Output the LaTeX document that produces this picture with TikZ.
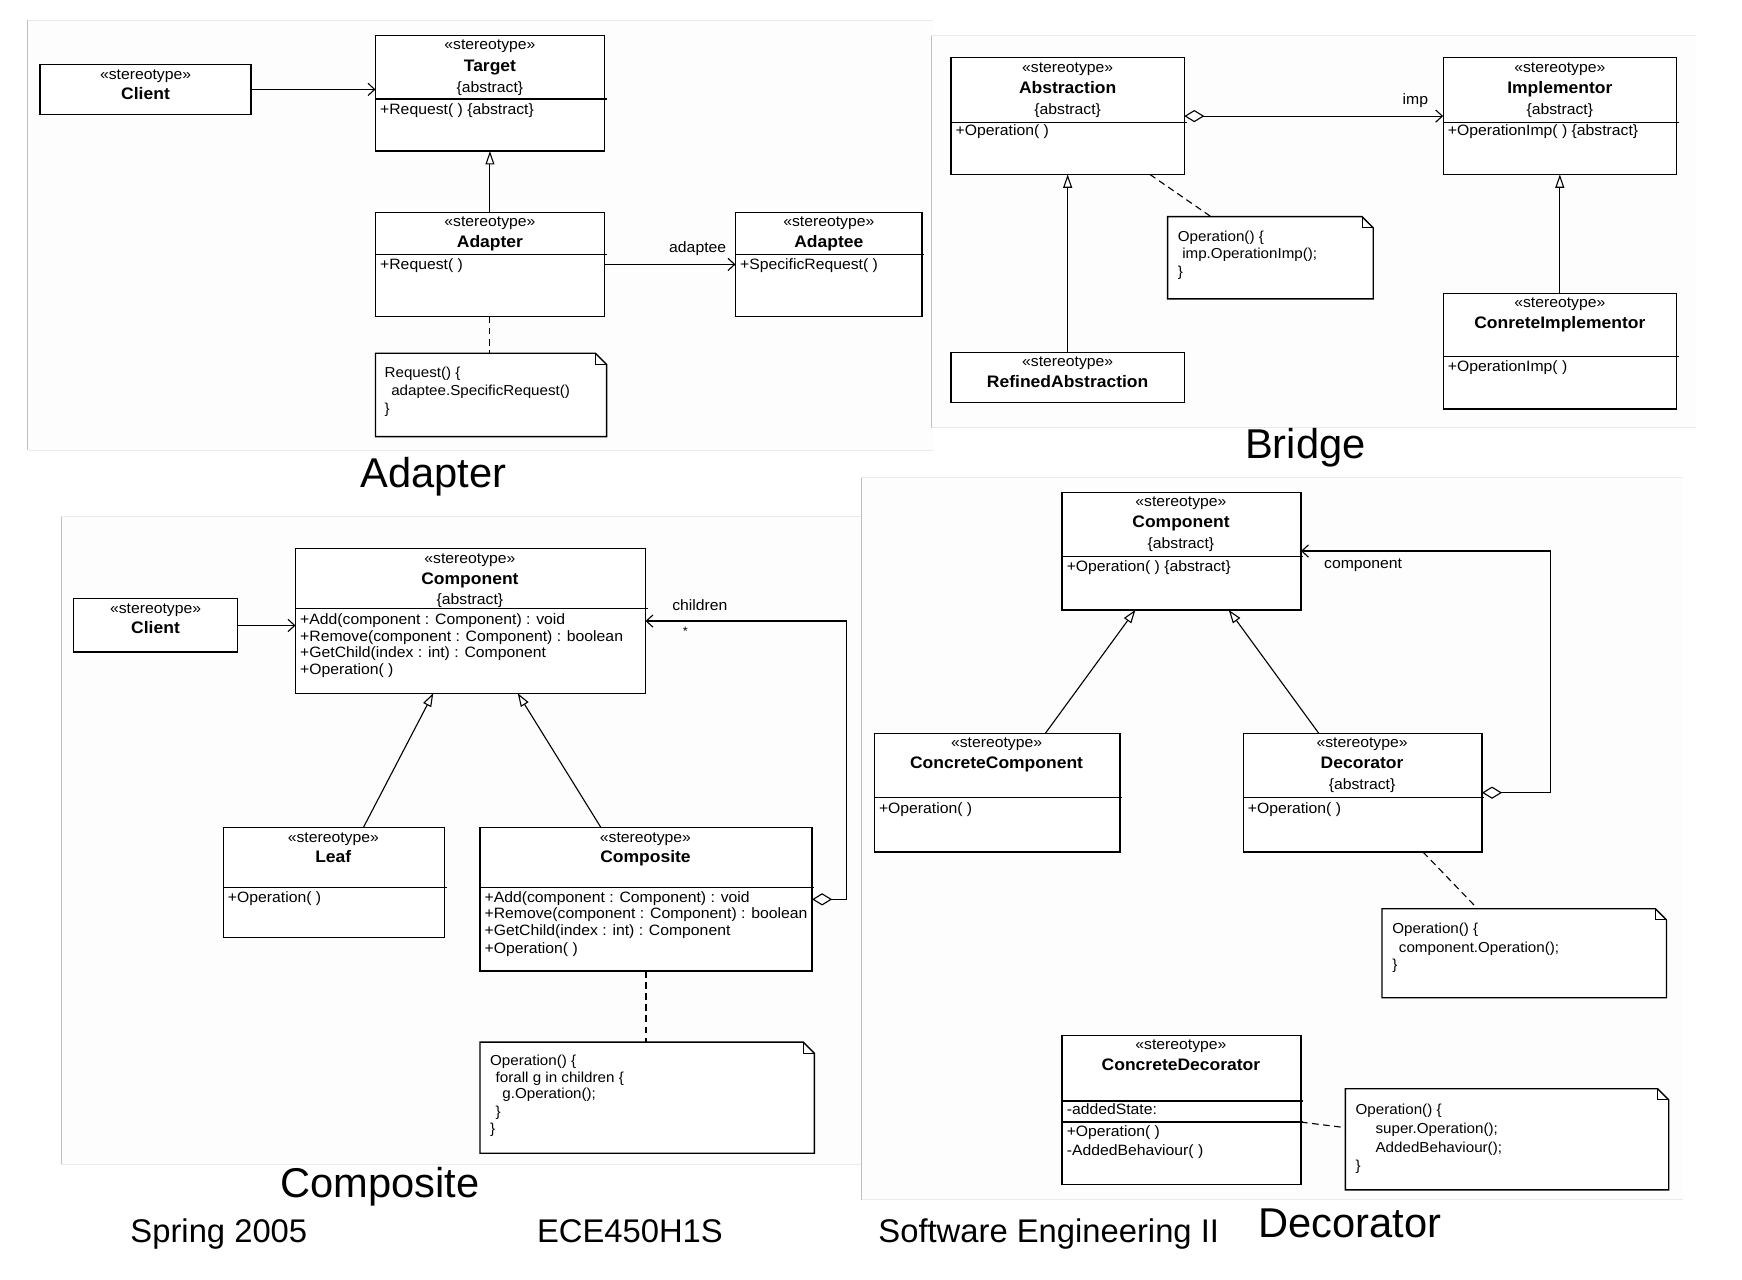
\documentclass[tikz,border=0pt]{standalone}
\usepackage{fontspec}
\setmainfont{Liberation Sans}
\newfontfamily\umlf[FakeStretch=1.05]{Liberation Sans}
\usetikzlibrary{arrows.meta,calc}

\tikzset{
 umlbox/.style={draw, line width=1.2pt, inner sep=0pt, outer sep=0pt, fill=white},
 umlline/.style={line width=1.2pt},
 umlst/.style={font=\umlf\fontsize{13.5}{15}\selectfont, anchor=base, inner sep=0pt},
 umlnm/.style={font=\umlf\bfseries\fontsize{15}{17}\selectfont, anchor=base, inner sep=0pt},
 umlab/.style={umlst},
 umlop/.style={font=\umlf\fontsize{13.5}{15}\selectfont, anchor=base west, inner sep=0pt},
 notetxt/.style={font=\umlf\fontsize{13}{15}\selectfont, anchor=base west, inner sep=0pt},
 lbl/.style={font=\umlf\fontsize{13.5}{15}\selectfont, inner sep=0pt},
 titletxt/.style={font=\fontsize{37.5}{40}\selectfont, anchor=base, inner sep=0pt},
 foottxt/.style={font=\fontsize{29.5}{32}\selectfont, anchor=base, inner sep=0pt},
 panelfill/.style={fill=black!0.8},
 paneltop/.style={draw=black!8, line width=0.8pt},
 panelleft/.style={draw=black!25, line width=0.8pt},
 assoc/.style={line width=1pt, -{Straight Barb[length=6pt,width=11pt]}},
 gen/.style={line width=1pt, -{Triangle[open,length=12pt,width=8pt,fill=white]}},
 aggr/.style={line width=1pt, {Diamond[open,length=18pt,width=11pt,fill=white]}-{Straight Barb[length=6pt,width=11pt]}},
 dep/.style={line width=1pt, dash pattern=on 6pt off 4pt},
}

\newcommand\ubox[5]{\node[umlbox, minimum width={(#4-#2)*1pt}, minimum height={(#5-#3)*1pt}] (#1) at ({(#2+#4)/2},{(#3+#5)/2}) {};}
\newcommand\udiv[2]{\draw[umlline] (#1.west |- 0,#2) -- ([xshift=2pt]#1.east |- 0,#2);}
\newcommand\unote[5]{%
 \node[inner sep=0pt, outer sep=0pt, minimum width={(#4-#2)*1pt}, minimum height={(#5-#3)*1pt}] (#1) at ({(#2+#4)/2},{(#3+#5)/2}) {};
 \draw[umlline, fill=white] (#1.north west) -- ([xshift=-10pt]#1.north east) -- ([yshift=-10pt]#1.north east) -- (#1.south east) -- (#1.south west) -- cycle;
 \draw[line width=1pt] ([xshift=-10pt]#1.north east) -- ([xshift=-10pt,yshift=-10pt]#1.north east) -- ([yshift=-10pt]#1.north east);}
\newcommand\upanel[4]{%
 \fill[panelfill] (#1,#2) rectangle (#3,#4);
 \draw[paneltop] (#1,#2) -- (#3,#2);
 \draw[paneltop] (#1,#4) -- (#3,#4);
 \draw[panelleft] (#1,#2) -- (#1,#4);}

\begin{document}
\begin{tikzpicture}[x=1pt,y=-1pt]
\useasboundingbox (0,0) rectangle (1568,1152);
\fill[white] (0,0) rectangle (1568,1152);

% panels
\upanel{25}{18}{840}{405}
\upanel{838}{32}{1527}{385}
\upanel{55}{465}{775}{1048}
\upanel{775}{430}{1515}{1080}

% ================= Adapter =================
\ubox{aclient}{36}{58}{226}{103}
\node[umlst] (aclient-s) at (131,72) {«stereotype»};
\node[umlnm] (aclient-n) at (131,90) {Client};

\ubox{atarget}{338}{32}{544}{136}
\node[umlst] (atarget-s) at (441,45) {«stereotype»};
\node[umlnm] (atarget-n) at (441,64) {Target};
\node[umlab] (atarget-a) at (441,83) {\{abstract\}};
\udiv{atarget}{89}
\node[umlop] (atarget-o) at (342,103) {+Request( ) \{abstract\}};

\ubox{aadapter}{338}{191}{544}{285}
\node[umlst] (aadapter-s) at (441,204) {«stereotype»};
\node[umlnm] (aadapter-n) at (441,223) {Adapter};
\udiv{aadapter}{229}
\node[umlop] (aadapter-o) at (342,243) {+Request( )};

\ubox{aadaptee}{662}{191}{830}{285}
\node[umlst] (aadaptee-s) at (746,204) {«stereotype»};
\node[umlnm] (aadaptee-n) at (746,223) {Adaptee};
\udiv{aadaptee}{229}
\node[umlop] (aadaptee-o) at (666,243) {+SpecificRequest( )};

\unote{anote}{338}{318}{546}{393}
\node[notetxt] (anote-1) at (346,340) {Request() \{};
\node[notetxt] (anote-2) at (352,356) {adaptee.SpecificRequest()};
\node[notetxt] (anote-3) at (346,372) {\}};

\draw[assoc] (aclient.east) -- (aclient.east -| atarget.west);
\draw[gen] (aadapter.north) -- (atarget.south);
\draw[assoc] (aadapter.east) -- (aadaptee.west);
\node[lbl] (adaptee-l) at (628,224) {adaptee};
\draw[dep] (aadapter.south) -- (aadapter.south |- anote.north);

\node[titletxt] (t-adapter) at (390,439) {Adapter};

% ================= Bridge =================
\ubox{babs}{856}{52}{1066}{157}
\node[umlst] (babs-s) at (961,65) {«stereotype»};
\node[umlnm] (babs-n) at (961,84) {Abstraction};
\node[umlab] (babs-a) at (961,103) {\{abstract\}};
\udiv{babs}{110}
\node[umlop] (babs-o) at (860,122) {+Operation( )};

\ubox{bimp}{1299}{52}{1509}{157}
\node[umlst] (bimp-s) at (1404,65) {«stereotype»};
\node[umlnm] (bimp-n) at (1404,84) {Implementor};
\node[umlab] (bimp-a) at (1404,103) {\{abstract\}};
\udiv{bimp}{110}
\node[umlop] (bimp-o) at (1303,122) {+OperationImp( ) \{abstract\}};

\ubox{bref}{856}{317}{1066}{362}
\node[umlst] (bref-s) at (961,330) {«stereotype»};
\node[umlnm] (bref-n) at (961,349) {RefinedAbstraction};

\ubox{bconc}{1299}{264}{1509}{368}
\node[umlst] (bconc-s) at (1404,277) {«stereotype»};
\node[umlnm] (bconc-n) at (1404,296) {ConreteImplementor};
\udiv{bconc}{321}
\node[umlop] (bconc-o) at (1303,334) {+OperationImp( )};

\unote{bnote}{1051}{195}{1236}{269}
\node[notetxt] (bnote-1) at (1060,217) {Operation() \{};
\node[notetxt] (bnote-2) at (1064,233) {imp.OperationImp();};
\node[notetxt] (bnote-3) at (1060,249) {\}};

\draw[aggr] (babs.east) -- (bimp.west);
\node[lbl] (imp-l) at (1274,91) {imp};
\draw[gen] (bref.north) -- (babs.south);
\draw[gen] (bconc.north) -- (bimp.south);
\draw[dep] ([xshift=-31pt]babs.south east) -- ([xshift=39pt]bnote.north west);

\node[titletxt] (t-bridge) at (1175,413) {Bridge};

% ================= Composite =================
\ubox{cclient}{66}{539}{214}{587}
\node[umlst] (cclient-s) at (140,552) {«stereotype»};
\node[umlnm] (cclient-n) at (140,570) {Client};

\ubox{ccomp}{266}{494}{581}{624}
\node[umlst] (ccomp-s) at (423,507) {«stereotype»};
\node[umlnm] (ccomp-n) at (423,526) {Component};
\node[umlab] (ccomp-a) at (423,544) {\{abstract\}};
\udiv{ccomp}{548}
\node[umlop] (ccomp-o1) at (270,562) {+Add(component : Component) : void};
\node[umlop] (ccomp-o2) at (270,577) {+Remove(component : Component) : boolean};
\node[umlop] (ccomp-o3) at (270,592) {+GetChild(index : int) : Component};
\node[umlop] (ccomp-o4) at (270,607) {+Operation( )};

\ubox{cleaf}{201}{745}{400}{844}
\node[umlst] (cleaf-s) at (300,758) {«stereotype»};
\node[umlnm] (cleaf-n) at (300,776) {Leaf};
\udiv{cleaf}{799}
\node[umlop] (cleaf-o) at (205,812) {+Operation( )};

\ubox{ccompo}{432}{745}{731}{874}
\node[umlst] (ccompo-s) at (581,758) {«stereotype»};
\node[umlnm] (ccompo-n) at (581,776) {Composite};
\udiv{ccompo}{799}
\node[umlop] (ccompo-o1) at (436,812) {+Add(component : Component) : void};
\node[umlop] (ccompo-o2) at (436,827) {+Remove(component : Component) : boolean};
\node[umlop] (ccompo-o3) at (436,842) {+GetChild(index : int) : Component};
\node[umlop] (ccompo-o4) at (436,858) {+Operation( )};

\unote{cnote}{432}{938}{733}{1038}
\node[notetxt] (cnote-1) at (441,959) {Operation() \{};
\node[notetxt] (cnote-2) at (446,974) {forall g in children \{};
\node[notetxt] (cnote-3) at (452,989) {g.Operation();};
\node[notetxt] (cnote-4) at (446,1005) {\}};
\node[notetxt] (cnote-5) at (441,1020) {\}};

\draw[assoc] (cclient.east) -- (cclient.east -| ccomp.west);
\draw[gen] ([xshift=26.5pt]cleaf.north) -- ([xshift=-33.5pt]ccomp.south);
\draw[gen] ([xshift=-40.5pt]ccompo.north) -- ([xshift=42.5pt]ccomp.south);
\draw[aggr] (ccompo.east) -- ++(31,0) |- (ccomp.east);
\node[lbl] (children-l) at (630,545) {children};
\node[lbl, font=\umlf\fontsize{11}{12}\selectfont] (children-m) at (617,568) {*};
\draw[dep] (ccompo.south) -- (ccompo.south |- cnote.north);

\node[titletxt] (t-composite) at (342,1078) {Composite};

% ================= Decorator =================
\ubox{dcomp}{956}{443}{1171}{549}
\node[umlst] (dcomp-s) at (1063,456) {«stereotype»};
\node[umlnm] (dcomp-n) at (1063,475) {Component};
\node[umlab] (dcomp-a) at (1063,494) {\{abstract\}};
\udiv{dcomp}{501}
\node[umlop] (dcomp-o) at (960,514) {+Operation( ) \{abstract\}};

\ubox{dconc}{787}{660}{1008}{767}
\node[umlst] (dconc-s) at (897,673) {«stereotype»};
\node[umlnm] (dconc-n) at (897,692) {ConcreteComponent};
\udiv{dconc}{718}
\node[umlop] (dconc-o) at (791,732) {+Operation( )};

\ubox{ddeco}{1119}{660}{1334}{767}
\node[umlst] (ddeco-s) at (1226,673) {«stereotype»};
\node[umlnm] (ddeco-n) at (1226,692) {Decorator};
\node[umlab] (ddeco-a) at (1226,711) {\{abstract\}};
\udiv{ddeco}{718}
\node[umlop] (ddeco-o) at (1123,732) {+Operation( )};

\unote{dnote}{1244}{818}{1500}{898}
\node[notetxt] (dnote-1) at (1253,840) {Operation() \{};
\node[notetxt] (dnote-2) at (1259,857) {component.Operation();};
\node[notetxt] (dnote-3) at (1253,873) {\}};

\ubox{dcdec}{956}{932}{1171}{1066}
\node[umlst] (dcdec-s) at (1063,945) {«stereotype»};
\node[umlnm] (dcdec-n) at (1063,964) {ConcreteDecorator};
\udiv{dcdec}{991}
\udiv{dcdec}{1010}
\node[umlop] (dcdec-o1) at (960,1003) {-addedState:};
\node[umlop] (dcdec-o2) at (960,1023) {+Operation( )};
\node[umlop] (dcdec-o3) at (960,1040) {-AddedBehaviour( )};

\unote{dnote2}{1211}{980}{1502}{1071}
\node[notetxt] (dnote2-1) at (1220,1003) {Operation() \{};
\node[notetxt] (dnote2-2) at (1238,1020) {super.Operation();};
\node[notetxt] (dnote2-3) at (1238,1037) {AddedBehaviour();};
\node[notetxt] (dnote2-4) at (1220,1054) {\}};

\draw[gen] ([xshift=43.5pt]dconc.north) -- ([xshift=-41.5pt]dcomp.south);
\draw[gen] ([xshift=-39.5pt]ddeco.north) -- ([xshift=42.5pt]dcomp.south);
\draw[aggr] (ddeco.east) -- ++(62,0) |- (dcomp.east);
\node[lbl] (component-l) at (1227,509) {component};
\draw[dep] ([xshift=54.5pt]ddeco.south) -- ([xshift=86pt]dnote.north west);
\draw[dep] ([yshift=-11pt]dcdec.east) -- ([yshift=10.5pt]dnote2.west);

\node[titletxt] (t-decorator) at (1215,1114) {Decorator};

% footer
\node[foottxt] (f-spring) at (197,1118) {Spring 2005};
\node[foottxt] (f-course) at (567,1118) {ECE450H1S};
\node[foottxt] (f-se) at (944,1118) {Software Engineering II};
\end{tikzpicture}
\end{document}
